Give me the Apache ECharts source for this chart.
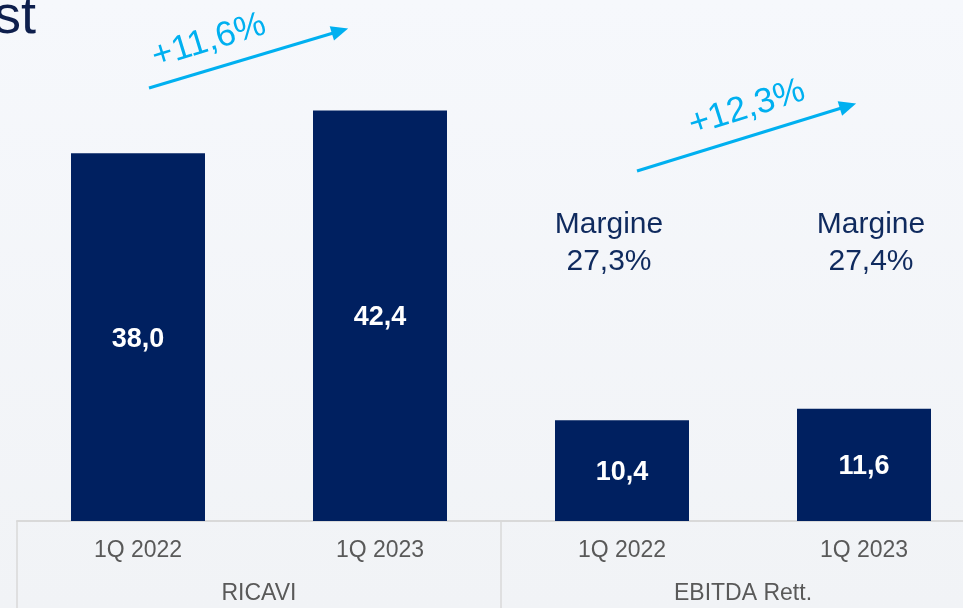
<!DOCTYPE html>
<html>
<head>
<meta charset="utf-8">
<script src="https://cdn.jsdelivr.net/npm/echarts@6/dist/echarts.min.js"></script>
<style>
  html, body { margin: 0; padding: 0; }
  #chart { width: 963px; height: 608px; }
</style>
</head>
<body>
<div id="chart"></div>
<script>
const categories = ['1Q 2022', '1Q 2023', '1Q 2022', '1Q 2023']
const groups = ['RICAVI', 'EBITDA Rett.']
const values = [38.0, 42.4, 10.4, 11.6]
const margins = ['27,3%', '27,4%']
const growth = ['+11,6%', '+12,3%']

const navy = '#002060'
const cyan = '#00b0f0'
const font = '"Liberation Sans", Arial, sans-serif'
const fmt = v => v.toFixed(1).replace('.', ',')

var myChart = echarts.init(document.getElementById('chart'))

myChart.setOption({
  backgroundColor: {
    type: 'linear', x: 0, y: 0, x2: 0, y2: 1,
    colorStops: [
      { offset: 0, color: '#f6f8fc' },
      { offset: 1, color: '#f1f3f6' }
    ]
  },
  animation: false,
  grid: {
    left: 17,
    width: 968,
    top: 37,
    bottom: 87,
    outerBoundsMode: 'none'
  },
  yAxis: {
    type: 'value',
    min: 0,
    max: 50,
    show: false
  },
  xAxis: [
    {
      type: 'category',
      data: categories,
      position: 'bottom',
      axisLine: { show: true, lineStyle: { color: '#d9d9d9', width: 2 } },
      axisTick: { show: false },
      axisLabel: {
        margin: 18,
        fontSize: 23,
        color: '#595959',
        fontFamily: font
      }
    },
    {
      type: 'category',
      data: groups,
      position: 'bottom',
      axisLine: { show: false },
      axisTick: {
        show: true,
        interval: 0,
        length: 90,
        lineStyle: { color: '#d9d9d9', width: 1.5 }
      },
      axisLabel: {
        margin: 61,
        fontSize: 23,
        color: '#595959',
        fontFamily: font
      }
    }
  ],
  series: [
    {
      type: 'bar',
      data: values,
      barWidth: 134,
      itemStyle: { color: navy },
      label: {
        show: true,
        position: 'inside',
        offset: [0, 2],
        color: '#ffffff',
        fontWeight: 'bold',
        fontSize: 27,
        fontFamily: font,
        formatter: p => fmt(p.value)
      },
      markLine: {
        silent: true,
        symbol: ['none', 'triangle'],
        symbolSize: [15, 17],
        label: { show: false },
        lineStyle: { color: cyan, width: 3, type: 'solid' },
        data: [
          [{ x: 149, y: 88 }, { x: 340, y: 31 }],
          [{ x: 637, y: 171 }, { x: 848, y: 106 }]
        ]
      }
    }
  ],
  graphic: [
    {
      type: 'text',
      x: 36, y: 45,
      style: {
        text: 'st',
        align: 'right',
        verticalAlign: 'bottom',
        fontSize: 54,
        fontFamily: font,
        fill: '#0e1f4d'
      }
    },
    {
      type: 'text',
      x: 209, y: 41,
      rotation: 17 * Math.PI / 180,
      style: {
        text: growth[0],
        align: 'center',
        verticalAlign: 'middle',
        fontSize: 35,
        fontFamily: font,
        fill: cyan
      }
    },
    {
      type: 'text',
      x: 747, y: 108,
      rotation: 17.5 * Math.PI / 180,
      style: {
        text: growth[1],
        align: 'center',
        verticalAlign: 'middle',
        fontSize: 35,
        fontFamily: font,
        fill: cyan
      }
    },
    {
      type: 'text',
      x: 609, y: 243,
      style: {
        text: 'Margine\n' + margins[0],
        align: 'center',
        verticalAlign: 'middle',
        lineHeight: 37,
        fontSize: 30,
        fontFamily: font,
        fill: '#0f2a5e'
      }
    },
    {
      type: 'text',
      x: 871, y: 243,
      style: {
        text: 'Margine\n' + margins[1],
        align: 'center',
        verticalAlign: 'middle',
        lineHeight: 37,
        fontSize: 30,
        fontFamily: font,
        fill: '#0f2a5e'
      }
    }
  ]
})
</script>
</body>
</html>
